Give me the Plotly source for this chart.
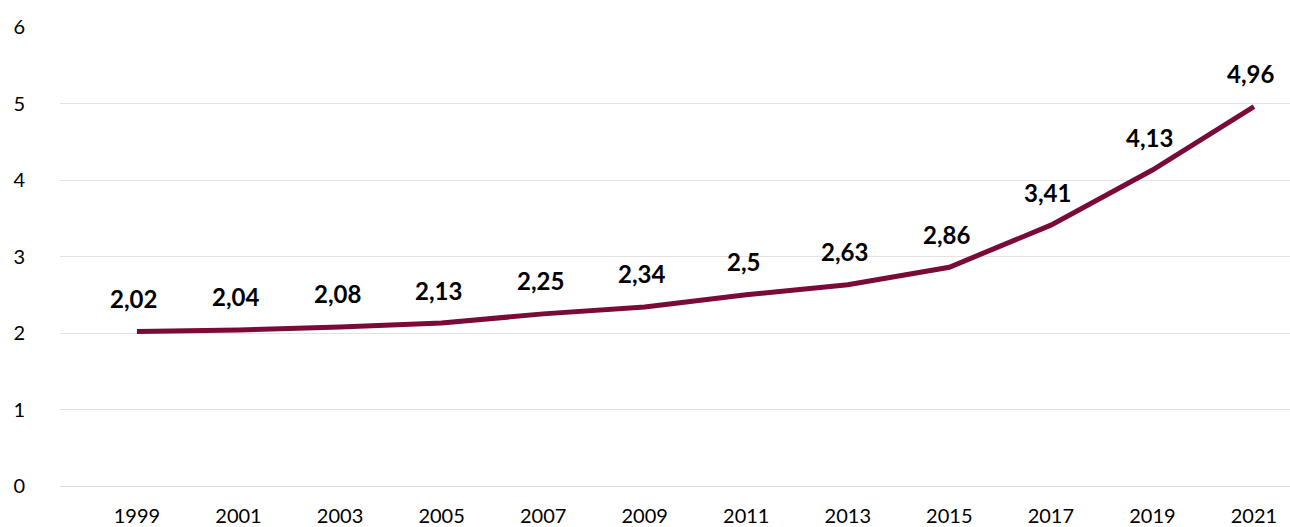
import plotly.graph_objects as go

years = ["1999", "2001", "2003", "2005", "2007", "2009", "2011", "2013", "2015", "2017", "2019", "2021"]
values = [2.02, 2.04, 2.08, 2.13, 2.25, 2.34, 2.5, 2.63, 2.86, 3.41, 4.13, 4.96]
value_labels = ["2,02", "2,04", "2,08", "2,13", "2,25", "2,34", "2,5", "2,63", "2,86", "3,41", "4,13", "4,96"]

LINE_COLOR = "#7a0a38"
FONT = "Lato, 'Open Sans', sans-serif"

fig = go.Figure()
fig.add_trace(go.Scatter(
    x=list(range(len(years))),
    y=values,
    mode="lines",
    line=dict(color=LINE_COLOR, width=5),
    hoverinfo="skip",
))

for i, (v, lab) in enumerate(zip(values, value_labels)):
    fig.add_annotation(
        x=i, y=v, text=f"<b>{lab}</b>", showarrow=False,
        yshift=33, xshift=-3,
        font=dict(family=FONT, size=24, color="#000000"),
    )

fig.update_layout(
    width=1290, height=527,
    margin=dict(l=60, r=0, t=27, b=41),
    plot_bgcolor="white", paper_bgcolor="white",
    showlegend=False,
    font=dict(family=FONT, size=20, color="#000000"),
    xaxis=dict(
        tickmode="array",
        tickvals=list(range(len(years))),
        ticktext=years,
        range=[-0.758, 11.355],
        showgrid=False, zeroline=False, showline=False,
        ticks="", ticklabelstandoff=16,
        tickfont=dict(family=FONT, size=20),
    ),
    yaxis=dict(
        range=[0, 6], dtick=1,
        showgrid=True, gridcolor="#e2e2e2", gridwidth=1,
        zeroline=True, zerolinecolor="#d9d9d9", zerolinewidth=1,
        showline=False, ticks="",
        ticklabelstandoff=34,
        tickfont=dict(family=FONT, size=20),
    ),
)

fig.write_html("out.html")
